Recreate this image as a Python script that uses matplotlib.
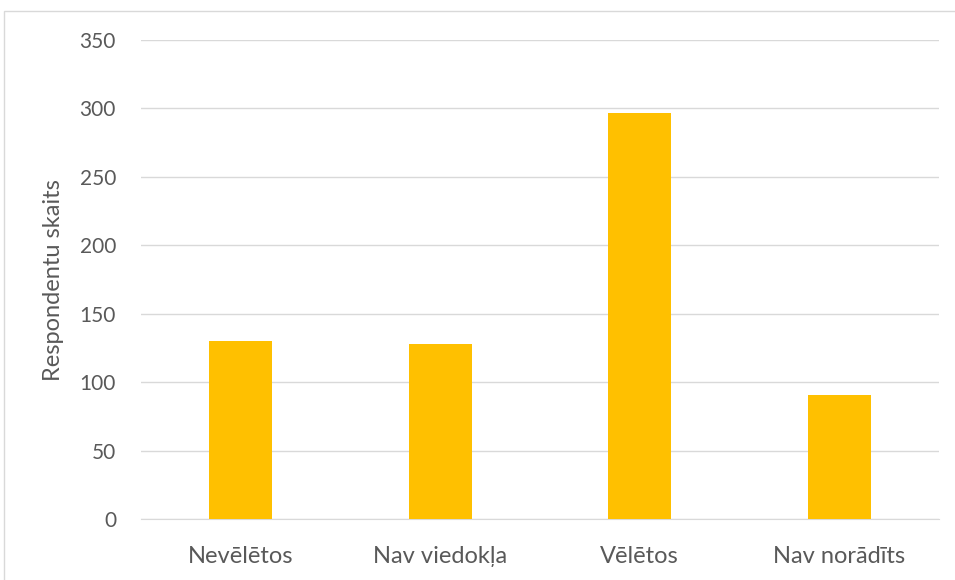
import matplotlib.pyplot as plt
from matplotlib.patches import Rectangle

categories = ["Nevēlētos", "Nav viedokļa", "Vēlētos", "Nav norādīts"]
values = [130, 128, 297, 91]
y_ticks = [0, 50, 100, 150, 200, 250, 300, 350]
y_label = "Respondentu skaits"

plt.rcParams['font.family'] = ['Lato', 'DejaVu Sans']
text_color = "#595959"

fig = plt.figure(figsize=(9.55, 5.8), dpi=100)
ax = fig.add_axes([141 / 955, 1 - 519.3 / 580, (939 - 141) / 955, (519.3 - 40) / 580])

ax.bar(range(len(categories)), values, width=0.316, color="#FFC000", zorder=3)
ax.set_xlim(-0.5, len(categories) - 0.5)
ax.set_ylim(0, 350)
ax.set_yticks(y_ticks)
ax.set_xticks(range(len(categories)))
ax.set_xticklabels(categories, fontsize=17)
ax.yaxis.grid(True, color="#d9d9d9", linewidth=1, zorder=0)
ax.tick_params(axis="both", length=0, colors=text_color)
ax.tick_params(axis="y", labelsize=15, pad=18)
ax.tick_params(axis="x", pad=19)
for s in ["top", "right", "left"]:
    ax.spines[s].set_visible(False)
ax.spines["bottom"].set_color("#d9d9d9")
ax.set_ylabel(y_label, fontsize=17, color=text_color, labelpad=11)

# outer chart frame
fig.patches.append(Rectangle((4 / 955, -0.1), 1.1, 1 - 11 / 580 + 0.1,
                             transform=fig.transFigure, fill=False,
                             edgecolor="#d9d9d9", linewidth=1))

fig.savefig("out.png", dpi=100)
